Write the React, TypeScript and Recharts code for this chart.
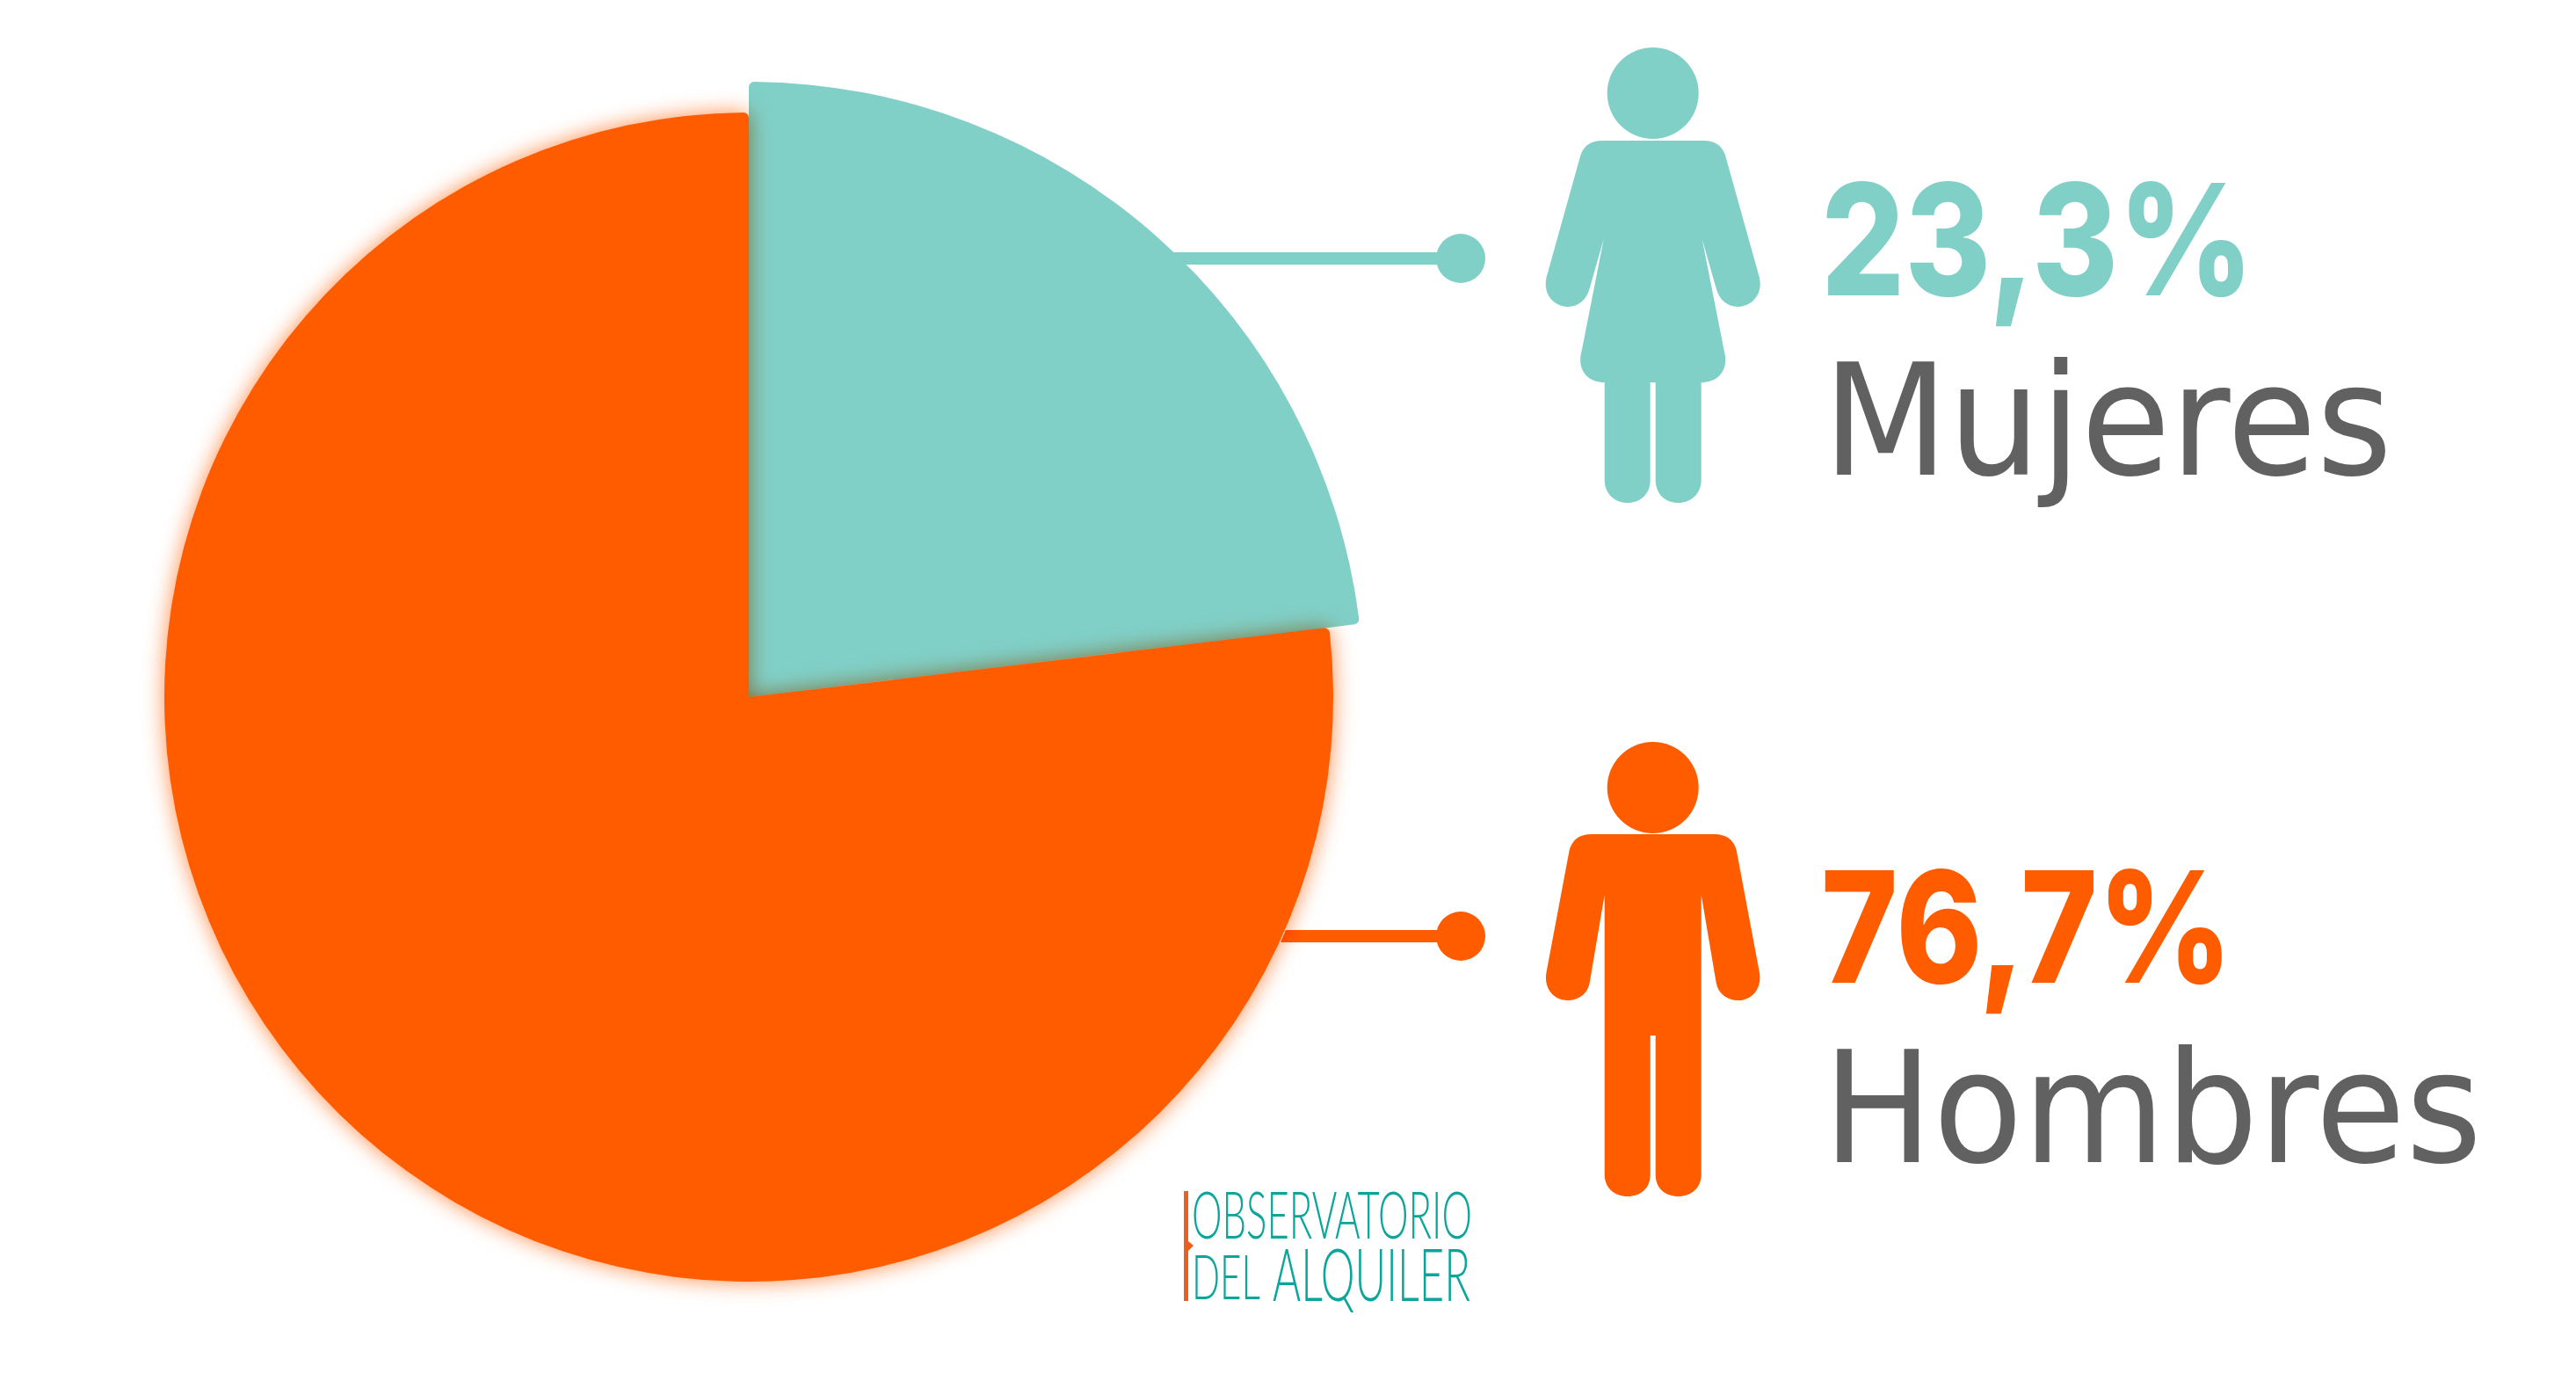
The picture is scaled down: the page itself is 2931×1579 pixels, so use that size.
import { PieChart, Pie, Sector } from 'recharts';

const WIDTH = 2931;
const HEIGHT = 1579;

// datos
const generos = ['Mujeres', 'Hombres'];
const etiquetas = ['23,3%', '76,7%'];
// porciones tal como están dibujadas (el ángulo del sector es algo menor que la etiqueta)
const porciones = [23.1, 76.9];

const datos = generos.map((genero, i) => ({ genero, valor: porciones[i] }));

const COLORS: Record<string, string> = { Mujeres: '#80D0C8', Hombres: '#FF5C00' };
const RADII: Record<string, number> = { Mujeres: 700, Hombres: 665 };
const GRAY = '#616161';
const CX = 852;
const CY = 793;

const mujerPath =
  'M1 160 L-58 160 Q-78 160 -83 179 L-121 315 C-126 335 -112 349 -97 349 C-84 349 -75 340 -72 328 L-56 272 L-81 399 C-87 420 -75 435 -55 435 L-55 546 C-55 562 -43 572 -29 572 C-14 572 -3 562 -3 546 L-3 435 L1 435 Z';
const hombrePath =
  'M1 949 L-70 949 Q-90 949 -95 967 L-121 1105 C-125 1125 -112 1138 -97 1138 C-84 1138 -74 1130 -72 1118 L-55 1018 L-55 1336 C-55 1352 -43 1361 -29 1361 C-14 1361 -3 1352 -3 1336 L-3 1178 L1 1178 Z';

const Person = ({ path, headY, color }: { path: string; headY: number; color: string }) => (
  <g transform="translate(1880.7 0)">
    <circle cx={0} cy={headY} r={52} fill={color} />
    <path d={path} fill={color} />
    <path d={path} fill={color} transform="scale(-1 1)" />
  </g>
);

// el extremo izquierdo sigue el arco para no solaparse con el sector
const Connector = ({ xTop, xBottom, y, color }: { xTop: number; xBottom: number; y: number; color: string }) => (
  <g fill={color}>
    <path d={`M${xTop} ${y - 7} H1662 V${y + 7} H${xBottom} Z`} />
    <circle cx={1662} cy={y} r={28} />
  </g>
);

const renderSlice = (props: any) => {
  const name = props.payload?.genero ?? props.genero;
  const isHombres = name === 'Hombres';
  return (
    <Sector
      {...props}
      outerRadius={RADII[name]}
      fill={COLORS[name]}
      stroke="none"
      cornerRadius={6}
      style={
        isHombres
          ? { filter: 'drop-shadow(0 0 12px rgba(255,92,0,0.7))', mixBlendMode: 'multiply' }
          : undefined
      }
    />
  );
};

const Logo = () => (
  <g fontFamily="Lato" fontWeight={300} fill="#0CA59B">
    <path d="M1347 1355 H1352 V1412 L1358 1417 L1352 1423 V1480 H1347 Z" fill="#EC5F1F" />
    <text x={1356} y={1409} fontSize={74} textLength={319} lengthAdjust="spacingAndGlyphs">
      OBSERVATORIO
    </text>
    <text x={1356} y={1478} fontSize={70} textLength={78} lengthAdjust="spacingAndGlyphs">
      DEL
    </text>
    <text x={1448} y={1480} fontSize={82} textLength={225} lengthAdjust="spacingAndGlyphs">
      ALQUILER
    </text>
  </g>
);

export default function App() {
  return (
    <div style={{ position: 'absolute', left: 0, top: 0, width: WIDTH, height: HEIGHT, background: '#fff', overflow: 'hidden' }}>
      <PieChart width={WIDTH} height={HEIGHT} margin={{ top: 0, right: 0, bottom: 0, left: 0 }}>
        <Pie
          data={datos}
          dataKey="valor"
          nameKey="genero"
          cx={CX}
          cy={CY}
          innerRadius={0}
          outerRadius={RADII.Mujeres}
          startAngle={90}
          endAngle={-270}
          paddingAngle={0}
          stroke="none"
          shape={renderSlice}
          isAnimationActive={false}
        />
        <Connector xTop={1330} xBottom={1330} y={294} color={COLORS.Mujeres} />
        <Connector xTop={1463} xBottom={1457} y={1065} color={COLORS.Hombres} />
        <Person path={mujerPath} headY={106} color={COLORS.Mujeres} />
        <Person path={hombrePath} headY={896} color={COLORS.Hombres} />

        <text x={2072} y={336} fontFamily="Inter" fontWeight={800} fontSize={176} fill={COLORS.Mujeres} textLength={492} lengthAdjust="spacingAndGlyphs">
          {etiquetas[0]}
        </text>
        <text x={2074} y={540} fontFamily="DejaVu Sans" fontWeight={400} fontSize={176} fill={GRAY} textLength={648} lengthAdjust="spacingAndGlyphs">
          {generos[0]}
        </text>
        <text x={2072} y={1118} fontFamily="Inter" fontWeight={800} fontSize={176} fill={COLORS.Hombres} textLength={468} lengthAdjust="spacingAndGlyphs">
          {etiquetas[1]}
        </text>
        <text x={2074} y={1322} fontFamily="DejaVu Sans" fontWeight={400} fontSize={176} fill={GRAY} textLength={750} lengthAdjust="spacingAndGlyphs">
          {generos[1]}
        </text>
        <Logo />
      </PieChart>
    </div>
  );
}
